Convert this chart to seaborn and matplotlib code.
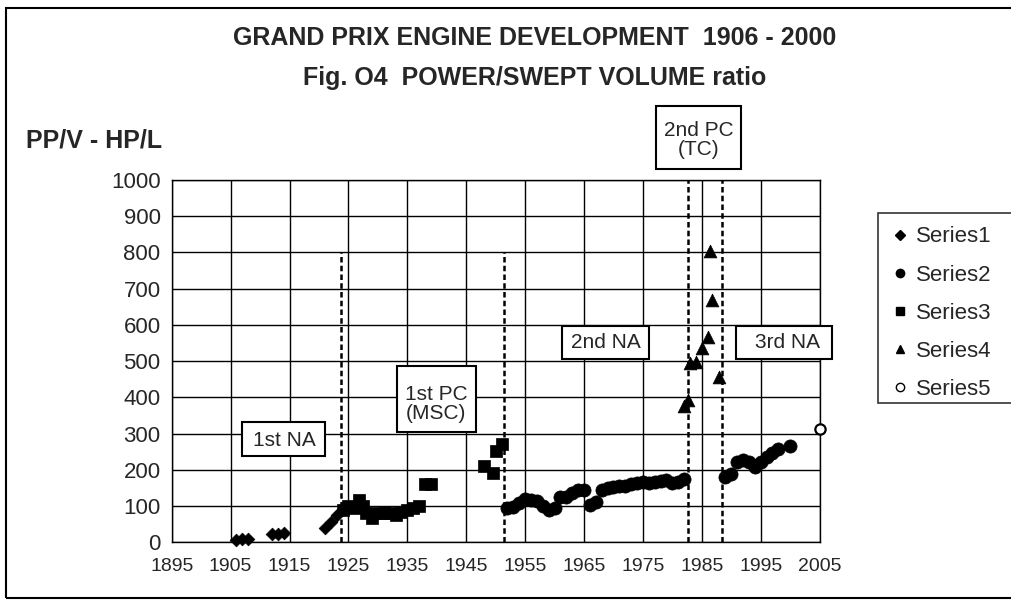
import numpy as np
import pandas as pd
import matplotlib
matplotlib.use('Agg')
import matplotlib.pyplot as plt
from matplotlib.patches import Rectangle
from matplotlib.lines import Line2D
import seaborn as sns

# --- data ---
s1_year = [1906, 1907, 1908, 1912, 1913, 1914, 1921, 1922, 1923]
s1_val = [7, 8, 10, 22, 24, 26, 39, 57, 75]

s2_year = [1952, 1953, 1954, 1955, 1956, 1957, 1958, 1959, 1960, 1961, 1962, 1963,
           1964, 1965, 1966, 1967, 1968, 1969, 1970, 1971, 1972, 1973, 1974, 1975,
           1976, 1977, 1978, 1979, 1980, 1981, 1982,
           1989, 1990, 1991, 1992, 1993, 1994, 1995, 1996, 1997, 1998, 2000]
s2_val = [94, 97, 108, 119, 117, 114, 100, 89, 94, 126, 124, 135,
          144, 143, 103, 112, 144, 149, 152, 155, 156, 161, 163, 167,
          163, 167, 170, 172, 163, 167, 175,
          180, 189, 223, 227, 222, 209, 223, 236, 246, 257, 266]

s3_year = [1924, 1925, 1926, 1926.8, 1927.5, 1928, 1929, 1930, 1931, 1932, 1933,
           1934, 1935, 1936, 1937, 1938, 1939, 1948, 1949.6, 1950, 1951]
s3_val = [90, 100, 95, 118, 100, 80, 68, 80, 82, 80, 76, 85, 90, 95, 100, 160, 160,
          210, 192, 252, 272]

s4_year = [1982, 1982.7, 1983, 1984, 1985, 1986, 1986.4, 1986.8, 1988]
s4_val = [375, 393, 494, 499, 536, 568, 803, 669, 455]

s5_year = [2005]
s5_val = [312]

series_names = ['Series1', 'Series2', 'Series3', 'Series4', 'Series5']

# era boundaries (dashed lines)
era_year = [1923.7, 1951.5, 1982.6, 1988.5]
era_top = [800, 800, 1000, 1000]

x_ticks = list(range(1895, 2006, 10))
y_ticks = list(range(0, 1001, 100))

df = pd.concat([
    pd.DataFrame({'year': s1_year, 'value': s1_val, 'series': 'Series1'}),
    pd.DataFrame({'year': s2_year, 'value': s2_val, 'series': 'Series2'}),
    pd.DataFrame({'year': s3_year, 'value': s3_val, 'series': 'Series3'}),
    pd.DataFrame({'year': s4_year, 'value': s4_val, 'series': 'Series4'}),
    pd.DataFrame({'year': s5_year, 'value': s5_val, 'series': 'Series5'}),
], ignore_index=True)

sns.set_style('white')
plt.rcParams['font.family'] = ['Liberation Sans', 'DejaVu Sans']

W, H = 1011, 606
fig = plt.figure(figsize=(W / 100, H / 100), dpi=100)
fig.patch.set_facecolor('white')


def px_box(x0, y0, x1, y1, **kw):
    # rectangle given in image pixels (origin top-left)
    r = Rectangle((x0 / W, 1 - y1 / H), (x1 - x0) / W, (y1 - y0) / H,
                  transform=fig.transFigure, **kw)
    fig.add_artist(r)
    return r


ax = fig.add_axes([171.7 / W, 1 - 542.3 / H, (819.6 - 171.7) / W, (542.3 - 180) / H])

styles = {
    'Series1': dict(marker='D', s=42, color='black', edgecolor='black', linewidth=0.5),
    'Series2': dict(marker='o', s=90, color='black', edgecolor='black', linewidth=0.5),
    'Series3': dict(marker='s', s=80, color='black', edgecolor='black', linewidth=0.5),
    'Series4': dict(marker='^', s=85, color='black', edgecolor='black', linewidth=0.5),
    'Series5': dict(marker='o', s=55, color='white', edgecolor='black', linewidth=1.6),
}
for name in series_names:
    sub = df[df['series'] == name]
    sns.scatterplot(data=sub, x='year', y='value', ax=ax, legend=False,
                    zorder=3, clip_on=False, **styles[name])

ax.vlines(era_year, 0, era_top, colors='black', linestyles=(0, (2.2, 1.3)),
          linewidth=1.8, zorder=2)

ax.set_xlim(1895, 2005)
ax.set_ylim(0, 1000)
ax.set_xticks(x_ticks)
ax.set_yticks(y_ticks)
ax.set_xlabel('')
ax.set_ylabel('')
ax.grid(True, color='black', linewidth=1.0)
ax.set_axisbelow(True)
for sp in ax.spines.values():
    sp.set_color('black')
    sp.set_linewidth(1.0)
ax.tick_params(axis='both', direction='out', length=6, width=1, color='black')
ax.tick_params(axis='y', labelsize=16, pad=2)
ax.tick_params(axis='x', labelsize=14, pad=5)

# titles
fig.text(535 / W, 1 - 38 / H, 'GRAND PRIX ENGINE DEVELOPMENT  1906 - 2000',
         ha='center', va='center', fontsize=18, fontweight='bold')
fig.text(535 / W, 1 - 78 / H, 'Fig. O4  POWER/SWEPT VOLUME ratio',
         ha='center', va='center', fontsize=18, fontweight='bold')
fig.text(26 / W, 1 - 141 / H, 'PP/V - HP/L', ha='left', va='center',
         fontsize=18, fontweight='bold')

# era boxes
boxes = [
    ((241.7, 421.7, 325, 456), (284, 440), '1st NA'),
    ((396.7, 366, 475.7, 431.7), (436, 404), '1st PC\n(MSC)'),
    ((561.7, 325.7, 649.3, 359), (606, 343), '2nd NA'),
    ((736, 326, 832, 359.3), (787.5, 343), '3rd NA'),
    ((656, 106, 741, 169), (699, 140), '2nd PC\n(TC)'),
]
for (x0, y0, x1, y1), (tx, ty), label in boxes:
    px_box(x0, y0, x1, y1, facecolor='white', edgecolor='black', linewidth=1.5, zorder=4)
    fig.text(tx / W, 1 - ty / H, label, ha='center', va='center', fontsize=15,
             linespacing=1.0, zorder=5)

# legend
px_box(878, 213, 1030, 403, facecolor='white', edgecolor='#333333', linewidth=1.2, zorder=4)
handles = [
    Line2D([], [], ls='', marker='D', color='black', markersize=5),
    Line2D([], [], ls='', marker='o', color='black', markersize=6),
    Line2D([], [], ls='', marker='s', color='black', markersize=6),
    Line2D([], [], ls='', marker='^', color='black', markersize=6),
    Line2D([], [], ls='', marker='o', markerfacecolor='white', markeredgecolor='black',
           markersize=6, markeredgewidth=1.0),
]
leg = fig.legend(handles, series_names, loc='upper left',
                 bbox_to_anchor=(893.3 / W, 1 - 226.5 / H), frameon=False,
                 fontsize=16, handlelength=0.6, handletextpad=0.4,
                 labelspacing=0.77, borderpad=0, borderaxespad=0)
leg.set_zorder(6)

# outer chart border
px_box(6, 8, 1030, 598, fill=False, edgecolor='black', linewidth=1.5, zorder=7)

fig.savefig('out.png', dpi=100, facecolor='white')
